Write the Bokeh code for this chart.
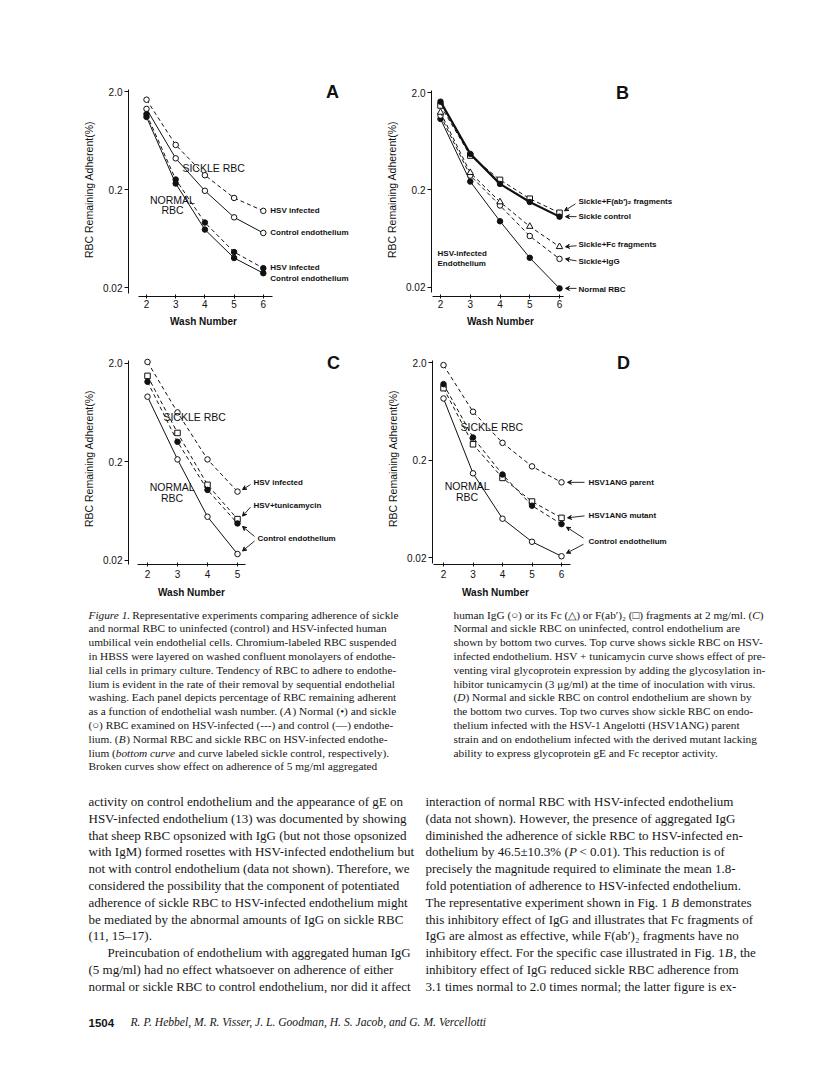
from bokeh.plotting import figure
from bokeh.models import Range1d, FixedTicker, Arrow, VeeHead, ColumnDataSource, Title
from bokeh.layouts import column, row
from bokeh.embed import file_html
from bokeh.resources import INLINE
from bokeh.core.properties import value

# ---------------- data ----------------
wash_number = [2, 3, 4, 5, 6]
wash_number_c = [2, 3, 4, 5]
y_tick_values = [0.02, 0.2, 2.0]
y_tick_labels = ["0.02", "0.2", "2.0"]
x_axis_title = "Wash Number"
y_axis_title = "RBC Remaining Adherent(%)"

# Panel A
a_sickle_hsv = [1.65, 0.57, 0.28, 0.164, 0.121]
a_sickle_control = [1.33, 0.416, 0.194, 0.104, 0.072]
a_normal_hsv = [1.175, 0.253, 0.092, 0.046, 0.0315]
a_normal_control = [1.10, 0.23, 0.078, 0.040, 0.028]
# Panel B
b_sickle_fab = [1.47, 0.45, 0.253, 0.162, 0.116]
b_sickle_control = [1.61, 0.468, 0.23, 0.15, 0.106]
b_sickle_fc = [1.25, 0.30, 0.15, 0.084, 0.052]
b_sickle_igg = [1.16, 0.28, 0.138, 0.067, 0.039]
b_normal = [1.07, 0.243, 0.095, 0.040, 0.0194]
# Panel C
c_sickle_hsv = [2.05, 0.63, 0.21, 0.099]
c_sickle_tunicamycin = [1.48, 0.39, 0.116, 0.052]
c_sickle_control = [1.29, 0.317, 0.103, 0.047]
c_normal_control = [0.91, 0.21, 0.055, 0.023]
# Panel D
d_parent = [1.88, 0.625, 0.30, 0.172, 0.118]
d_mutant = [1.09, 0.29, 0.131, 0.075, 0.051]
d_sickle_control = [1.20, 0.34, 0.142, 0.068, 0.044]
d_normal_control = [0.855, 0.146, 0.050, 0.029, 0.0206]

caption_left = [
    "*Figure 1.* Representative experiments comparing adherence of sickle",
    "and normal RBC to uninfected (control) and HSV-infected human",
    "umbilical vein endothelial cells. Chromium-labeled RBC suspended",
    "in HBSS were layered on washed confluent monolayers of endothe-",
    "lial cells in primary culture. Tendency of RBC to adhere to endothe-",
    "lium is evident in the rate of their removal by sequential endothelial",
    "washing. Each panel depicts percentage of RBC remaining adherent",
    "as a function of endothelial wash number. (*A*) Normal (\u2022) and sickle",
    "(\u25cb) RBC examined on HSV-infected (---) and control (\u2014) endothe-",
    "lium. (*B*) Normal RBC and sickle RBC on HSV-infected endothe-",
    "lium (*bottom curve* and curve labeled sickle control, respectively).",
    "Broken curves show effect on adherence of 5 mg/ml aggregated",
]
caption_right = [
    "human IgG (\u25cb) or its Fc (\u25b3) or F(ab\u2032)\u2082 (\u25a1) fragments at 2 mg/ml. (*C*)",
    "Normal and sickle RBC on uninfected, control endothelium are",
    "shown by bottom two curves. Top curve shows sickle RBC on HSV-",
    "infected endothelium. HSV + tunicamycin curve shows effect of pre-",
    "venting viral glycoprotein expression by adding the glycosylation in-",
    "hibitor tunicamycin (3 \u03bcg/ml) at the time of inoculation with virus.",
    "(*D*) Normal and sickle RBC on control endothelium are shown by",
    "the bottom two curves. Top two curves show sickle RBC on endo-",
    "thelium infected with the HSV-1 Angelotti (HSV1ANG) parent",
    "strain and on endothelium infected with the derived mutant lacking",
    "ability to express glycoprotein gE and Fc receptor activity.",
]
body_left = [
    "activity on control endothelium and the appearance of gE on",
    "HSV-infected endothelium (13) was documented by showing",
    "that sheep RBC opsonized with IgG (but not those opsonized",
    "with IgM) formed rosettes with HSV-infected endothelium but",
    "not with control endothelium (data not shown). Therefore, we",
    "considered the possibility that the component of potentiated",
    "adherence of sickle RBC to HSV-infected endothelium might",
    "be mediated by the abnormal amounts of IgG on sickle RBC",
    "(11, 15\u201317).",
    "Preincubation of endothelium with aggregated human IgG",
    "(5 mg/ml) had no effect whatsoever on adherence of either",
    "normal or sickle RBC to control endothelium, nor did it affect",
]
body_right = [
    "interaction of normal RBC with HSV-infected endothelium",
    "(data not shown). However, the presence of aggregated IgG",
    "diminished the adherence of sickle RBC to HSV-infected en-",
    "dothelium by 46.5\u00b110.3% (*P* < 0.01). This reduction is of",
    "precisely the magnitude required to eliminate the mean 1.8-",
    "fold potentiation of adherence to HSV-infected endothelium.",
    "The representative experiment shown in Fig. 1 *B* demonstrates",
    "this inhibitory effect of IgG and illustrates that Fc fragments of",
    "IgG are almost as effective, while F(ab\u2032)\u2082 fragments have no",
    "inhibitory effect. For the specific case illustrated in Fig. 1*B*, the",
    "inhibitory effect of IgG reduced sickle RBC adherence from",
    "3.1 times normal to 2.0 times normal; the latter figure is ex-",
]
footer_page = "1504"
footer_authors = "R. P. Hebbel, M. R. Visser, J. L. Goodman, H. S. Jacob, and G. M. Vercellotti"

# ---------------- styling helpers ----------------
INK = "#111111"
SANS = "Liberation Sans"
SERIF = "Liberation Serif"
WASH_W = 67.0  # approximate pixel width of the bold 10px "Wash Number" title


def make_panel(fig_box, frame_box, mapping, xticks, xbounds, wash_center,
               tick_standoff=1, title_standoff=6):
    fx0, fy0, w, h = fig_box
    L, R, T, B = frame_box
    x2, ppw, y02, dec = mapping
    xs = 2 + (L - x2) / ppw
    xe = 2 + (R - x2) / ppw
    ys = 0.2 * 10 ** ((y02 - B) / dec)
    ye = 0.2 * 10 ** ((y02 - T) / dec)
    p = figure(width=w, height=h, x_range=Range1d(xs, xe), y_range=Range1d(ys, ye),
               y_axis_type="log", output_backend="svg", toolbar_location=None,
               min_border_left=L - fx0, min_border_right=fx0 + w - R,
               min_border_top=T - fy0, min_border_bottom=fy0 + h - B)
    p.xgrid.visible = False
    p.ygrid.visible = False
    p.outline_line_color = None
    p.background_fill_color = "white"
    p.border_fill_color = "white"

    ya = p.yaxis[0]
    ya.ticker = FixedTicker(ticks=y_tick_values)
    ya.major_label_overrides = {v: s for v, s in zip(y_tick_values, y_tick_labels)}
    ya.bounds = (0.0175, 2.1)
    ya.major_tick_out = 4
    ya.major_tick_in = 0
    ya.minor_tick_line_color = None
    ya.major_label_standoff = 2
    ya.axis_label = y_axis_title
    ya.axis_label_standoff = 5
    ya.axis_label_text_font = SANS
    ya.axis_label_text_font_style = "normal"
    ya.axis_label_text_font_size = "10.5px"
    ya.major_label_text_font = SANS
    ya.major_label_text_font_size = "10px"

    xa = p.xaxis[0]
    xa.ticker = FixedTicker(ticks=xticks)
    xa.bounds = xbounds
    xa.major_tick_out = 2
    xa.major_tick_in = 2
    xa.minor_tick_line_color = None
    xa.major_label_standoff = tick_standoff
    xa.major_label_text_font = SANS
    xa.major_label_text_font_size = "10px"
    for ax in (xa, ya):
        ax.axis_line_color = INK
        ax.major_tick_line_color = INK
        ax.major_label_text_color = INK
        ax.axis_label_text_color = INK
    # x-axis title centred under the (bounded) axis line, as in the original
    p.add_layout(Title(text=x_axis_title, align="left", offset=wash_center - L - WASH_W / 2,
                       standoff=title_standoff, text_font=SANS, text_font_size="10px",
                       text_font_style="bold", text_color=INK), "below")
    return p, ppw, dec


def series(p, xs, ys, dashed, marker, filled, lw=1.0, size=5.5):
    p.line(xs, ys, line_color=INK, line_width=lw, line_dash="4 3" if dashed else "solid")
    p.scatter(xs, ys, marker=marker, size=size, fill_color=INK if filled else "white",
              line_color=INK, line_width=1)


def txt(p, x, y, t, size, bold=False, align="left", dx=0, dy=0):
    p.text(x=[x], y=[y], text=[t], x_offset=dx, y_offset=dy,
           text_font=value(SANS), text_font_size=value(f"{size}px"),
           text_font_style="bold" if bold else "normal",
           text_baseline="middle", text_align=align, text_color=INK)


def arrow(p, x, y, ppw, dec, s, e):
    p.add_layout(Arrow(end=VeeHead(size=4, line_color=INK, line_width=1, fill_color=INK),
                       x_start=x + s[0] / ppw, y_start=y * 10 ** (-s[1] / dec),
                       x_end=x + e[0] / ppw, y_end=y * 10 ** (-e[1] / dec),
                       line_color=INK, line_width=0.9))


# ---------------- Panel A ----------------
pA, ppwA, decA = make_panel((0, 0, 383, 340), (128, 380, 82, 296), (146, 29.2, 189, 98),
                            wash_number, (1.73, 6.31), 203)
series(pA, wash_number, a_sickle_hsv, True, "circle", False)
series(pA, wash_number, a_sickle_control, False, "circle", False)
series(pA, wash_number, a_normal_hsv, True, "circle", True)
series(pA, wash_number, a_normal_control, False, "circle", True)
for t, s, dy in [("HSV infected", a_sickle_hsv, 0), ("Control endothelium", a_sickle_control, 0),
                 ("HSV infected", a_normal_hsv, -1), ("Control endothelium", a_normal_control, 5)]:
    txt(pA, wash_number[-1], s[-1], t, 8, bold=True, dx=7, dy=dy)
txt(pA, 3.23, 0.335, "SICKLE RBC", 10.5)
txt(pA, 2.89, 0.158, "NORMAL", 10.5, align="center")
txt(pA, 2.89, 0.125, "RBC", 10.5, align="center")
txt(pA, 8.37, 2.0, "A", 18, bold=True, align="center")

# ---------------- Panel B ----------------
pB, ppwB, decB = make_panel((383, 0, 425, 340), (431, 805, 82, 296), (440, 29.75, 189.3, 97.3),
                            wash_number, (1.73, 6.13), 500)
series(pB, wash_number, b_normal, False, "circle", True)
series(pB, wash_number, b_sickle_igg, True, "circle", False)
series(pB, wash_number, b_sickle_fc, True, "triangle", False, size=6.5)
series(pB, wash_number, b_sickle_fab, True, "square", False)
series(pB, wash_number, b_sickle_control, False, "circle", True, lw=2.2)
for t, s, dy, a0, a1 in [("Sickle+F(ab\u2032)\u2082 fragments", b_sickle_fab, -11, (16, -9), (5, -2)),
                         ("Sickle control", b_sickle_control, 0, (17, 0), (6, 0)),
                         ("Sickle+Fc fragments", b_sickle_fc, -2, (17, -1), (6, 0)),
                         ("Sickle+IgG", b_sickle_igg, 3, (17, 2), (6, 0)),
                         ("Normal RBC", b_normal, 1, (17, 0), (6, 0))]:
    txt(pB, wash_number[-1], s[-1], t, 8, bold=True, dx=19, dy=dy)
    arrow(pB, wash_number[-1], s[-1], ppwB, decB, a0, a1)
txt(pB, 1.9, 0.0445, "HSV-infected", 8, bold=True)
txt(pB, 1.9, 0.0352, "Endothelium", 8, bold=True)
txt(pB, 8.12, 2.0, "B", 18, bold=True, align="center")

# ---------------- Panel C ----------------
pC, ppwC, decC = make_panel((0, 340, 383, 264), (128, 380, 352, 564), (147, 30, 461, 98.5),
                            wash_number_c, (1.67, 5.27), 191, tick_standoff=3, title_standoff=9)
series(pC, wash_number_c, c_sickle_hsv, True, "circle", False)
series(pC, wash_number_c, c_sickle_tunicamycin, True, "square", False)
series(pC, wash_number_c, c_sickle_control, True, "circle", True)
series(pC, wash_number_c, c_normal_control, False, "circle", False)
xl = wash_number_c[-1]
txt(pC, xl, c_sickle_hsv[-1], "HSV infected", 8, bold=True, dx=16, dy=-9)
arrow(pC, xl, c_sickle_hsv[-1], ppwC, decC, (13, -7), (5, -2))
txt(pC, xl, c_sickle_tunicamycin[-1], "HSV+tunicamycin", 8, bold=True, dx=16, dy=-14)
arrow(pC, xl, c_sickle_tunicamycin[-1], ppwC, decC, (13, -12), (5, -3))
txt(pC, xl, c_sickle_control[-1], "Control endothelium", 8, bold=True, dx=20, dy=15)
arrow(pC, xl, c_sickle_control[-1], ppwC, decC, (17, 13), (5, 3))
arrow(pC, xl, c_normal_control[-1], ppwC, decC, (17, -13), (5, -3))
txt(pC, 2.53, 0.56, "SICKLE RBC", 10.5)
txt(pC, 2.82, 0.109, "NORMAL", 10.5, align="center")
txt(pC, 2.82, 0.086, "RBC", 10.5, align="center")
txt(pC, 8.2, 2.0, "C", 18, bold=True, align="center")

# ---------------- Panel D ----------------
pD, ppwD, decD = make_panel((383, 340, 425, 264), (432, 805, 352, 564), (443, 29.5, 459.5, 97.5),
                            wash_number, (1.66, 6.3), 495, tick_standoff=3, title_standoff=9)
series(pD, wash_number, d_parent, True, "circle", False)
series(pD, wash_number, d_mutant, True, "square", False)
series(pD, wash_number, d_sickle_control, True, "circle", True)
series(pD, wash_number, d_normal_control, False, "circle", False)
xl = wash_number[-1]
txt(pD, xl, d_parent[-1], "HSV1ANG parent", 8, bold=True, dx=27, dy=0)
arrow(pD, xl, d_parent[-1], ppwD, decD, (23, 0), (6, 0))
txt(pD, xl, d_mutant[-1], "HSV1ANG mutant", 8, bold=True, dx=27, dy=-2)
arrow(pD, xl, d_mutant[-1], ppwD, decD, (23, -2), (6, 0))
txt(pD, xl, d_sickle_control[-1], "Control endothelium", 8, bold=True, dx=27, dy=17)
arrow(pD, xl, d_sickle_control[-1], ppwD, decD, (22, 14), (5, 3))
arrow(pD, xl, d_normal_control[-1], ppwD, decD, (22, -12), (5, -3))
txt(pD, 2.58, 0.434, "SICKLE RBC", 10.5)
txt(pD, 2.8, 0.109, "NORMAL", 10.5, align="center")
txt(pD, 2.8, 0.084, "RBC", 10.5, align="center")
txt(pD, 8.1, 2.0, "D", 18, bold=True, align="center")

# ---------------- caption and body text ----------------
_W = {' ': 250, '!': 333, '%': 833, "'": 333, '(': 333, ')': 333, '+': 564, ',': 250, '-': 333,
      '.': 250, '/': 278, ':': 278, ';': 278, '<': 564, '=': 564, '>': 564, '?': 444,
      '\u2013': 500, '\u2014': 1000, '\u2022': 350, '\u25cb': 620, '\u25b3': 620, '\u25a1': 620,
      '\u2032': 275, '\u2082': 330, '\u03bc': 500, '\u00b1': 564}
for _c, _w in zip('ABCDEFGHIJKLMNOPQRSTUVWXYZ',
                  [722, 667, 667, 722, 611, 556, 722, 722, 333, 389, 722, 611, 889, 722, 722, 556,
                   722, 667, 556, 611, 722, 722, 944, 722, 722, 611]):
    _W[_c] = _w
for _c, _w in zip('abcdefghijklmnopqrstuvwxyz',
                  [444, 500, 444, 500, 444, 333, 500, 500, 278, 278, 500, 278, 778, 500, 500, 500,
                   500, 333, 389, 278, 500, 500, 722, 500, 500, 444]):
    _W[_c] = _w


def tw(s, size):
    return sum(_W.get(c, 500) for c in s) / 1000.0 * size


TEXT_TOP, TEXT_BOTTOM = 604, 1066
pT = figure(width=808, height=TEXT_BOTTOM - TEXT_TOP, x_range=Range1d(0, 808),
            y_range=Range1d(TEXT_BOTTOM, TEXT_TOP),
            x_axis_location=None, y_axis_location=None, output_backend="svg",
            toolbar_location=None, min_border=0)
pT.xgrid.visible = False
pT.ygrid.visible = False
pT.outline_line_color = None

groups = {}


def put_line(x, y, line, size):
    cx = x
    for i, part in enumerate(line.split('*')):
        if part:
            style = "italic" if i % 2 else "normal"
            lead = len(part) - len(part.lstrip(' '))
            d = groups.setdefault((size, style), {"x": [], "y": [], "text": []})
            d["x"].append(cx + tw(part[:lead], size))
            d["y"].append(y)
            d["text"].append(part.strip(' '))
            cx += tw(part, size)


CAP_SIZE, CAP_Y0, CAP_DY = 11.3, 614, 13.8
BODY_SIZE, BODY_Y0, BODY_DY = 13, 801, 16.8
for i, ln in enumerate(caption_left):
    put_line(88, CAP_Y0 + i * CAP_DY, ln, CAP_SIZE)
for i, ln in enumerate(caption_right):
    put_line(453, CAP_Y0 + i * CAP_DY, ln, CAP_SIZE)
for i, ln in enumerate(body_left):
    put_line(107 if ln.startswith("Preincubation") else 88, BODY_Y0 + i * BODY_DY, ln, BODY_SIZE)
for i, ln in enumerate(body_right):
    put_line(425, BODY_Y0 + i * BODY_DY, ln, BODY_SIZE)

for (size, style), d in groups.items():
    pT.text(x="x", y="y", text="text", source=ColumnDataSource(d),
            text_font=value(SERIF), text_font_size=value(f"{size}px"), text_font_style=style,
            text_baseline="middle", text_align="left", text_color="#161616")

pT.text(x=[88], y=[1022], text=[footer_page], text_font=value(SANS), text_font_size=value("11.5px"),
        text_font_style="bold", text_baseline="middle", text_color="#161616")
pT.text(x=[130], y=[1022], text=[footer_authors], text_font=value(SERIF),
        text_font_size=value("11.6px"), text_font_style="italic", text_baseline="middle",
        text_color="#161616")

layout = column(row(pA, pB), row(pC, pD), pT)
open("out.html", "w").write(file_html(layout, INLINE))
